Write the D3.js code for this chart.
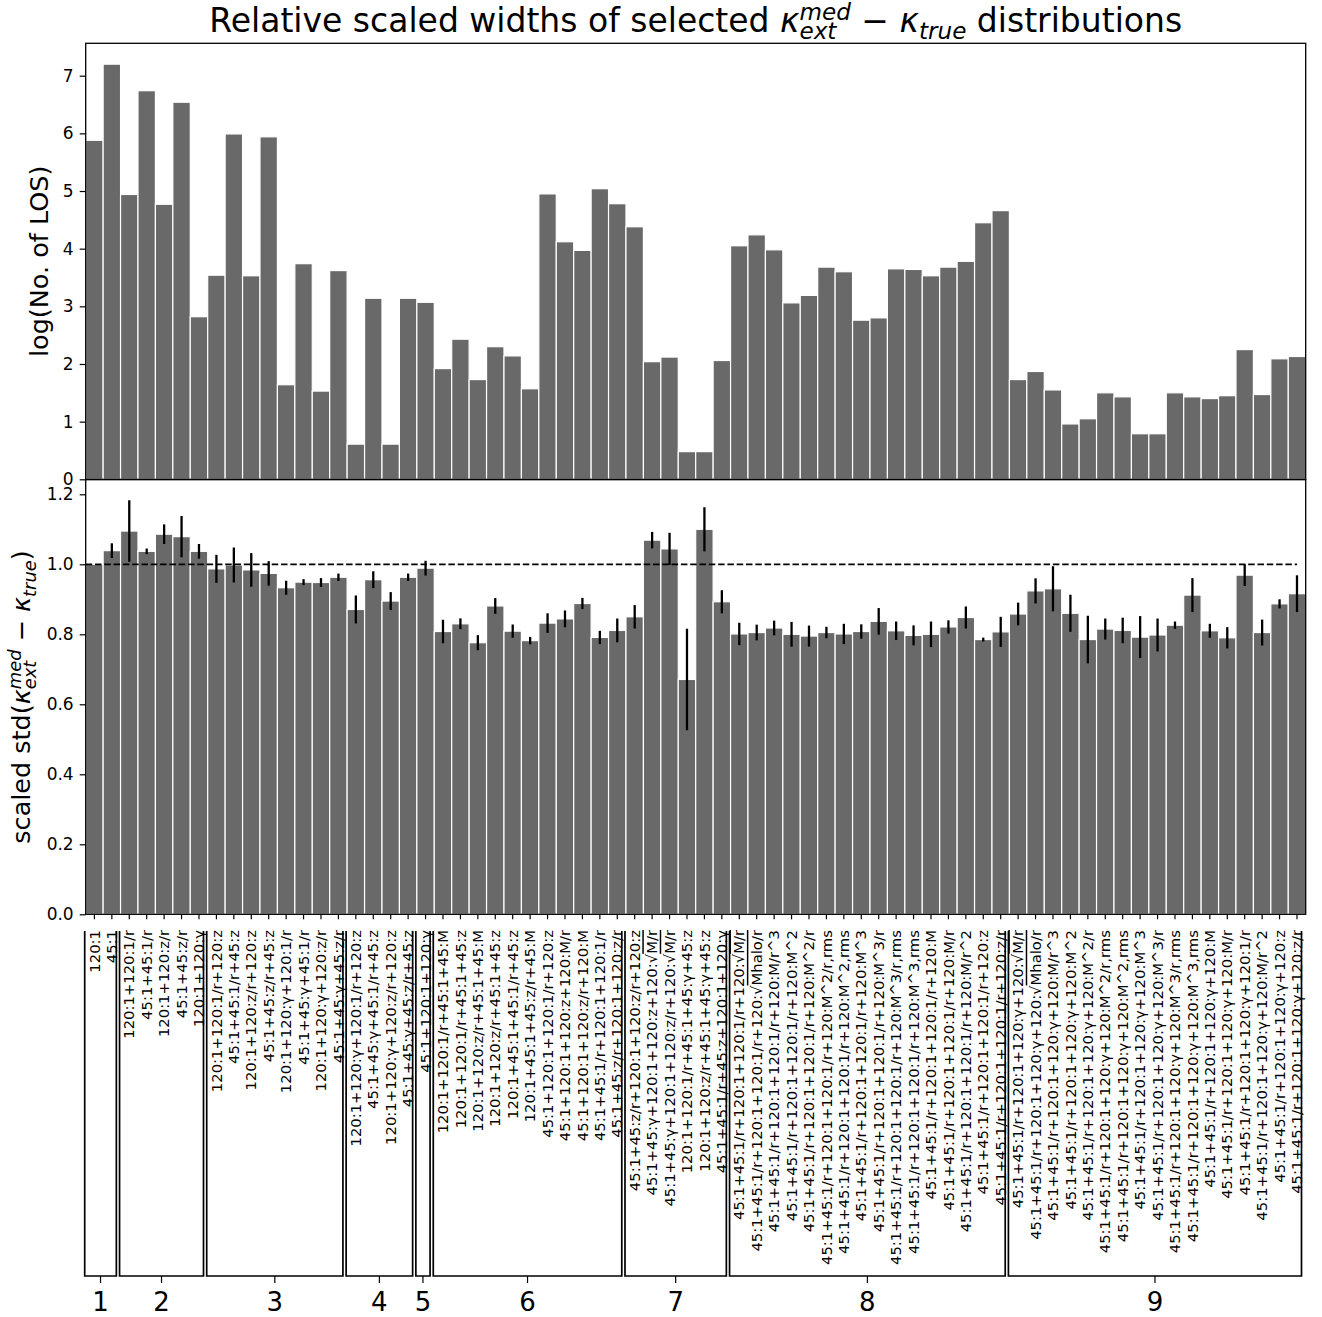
<!DOCTYPE html>
<html><head><meta charset="utf-8">
<script src="https://cdn.jsdelivr.net/npm/d3@7"></script>
<style>
html,body{margin:0;padding:0;background:#fff;}
text{font-family:"DejaVu Sans",sans-serif;white-space:pre;}
</style></head>
<body>
<svg id="chart" width="1322" height="1317"></svg>
<script>
const labels = [
"120:1","45:1",
"120:1+120:1/r","45:1+45:1/r","120:1+120:z/r","45:1+45:z/r","120:1+120:γ",
"120:1+120:1/r+120:z","45:1+45:1/r+45:z","120:1+120:z/r+120:z","45:1+45:z/r+45:z","120:1+120:γ+120:1/r","45:1+45:γ+45:1/r","120:1+120:γ+120:z/r","45:1+45:γ+45:z/r",
"120:1+120:γ+120:1/r+120:z","45:1+45:γ+45:1/r+45:z","120:1+120:γ+120:z/r+120:z","45:1+45:γ+45:z/r+45:z",
"45:1+120:1+120:γ",
"120:1+120:1/r+45:1+45:M","120:1+120:1/r+45:1+45:z","120:1+120:z/r+45:1+45:M","120:1+120:z/r+45:1+45:z","120:1+45:1+45:1/r+45:z","120:1+45:1+45:z/r+45:M","45:1+120:1+120:1/r+120:z","45:1+120:1+120:z+120:M/r","45:1+120:1+120:z/r+120:M","45:1+45:1/r+120:1+120:1/r","45:1+45:z/r+120:1+120:z/r",
"45:1+45:z/r+120:1+120:z/r+120:z","45:1+45:γ+120:1+120:z+120:√M/r","45:1+45:γ+120:1+120:z/r+120:√M/r","120:1+120:1/r+45:1+45:γ+45:z","120:1+120:z/r+45:1+45:γ+45:z","45:1+45:1/r+45:z+120:1+120:γ",
"45:1+45:1/r+120:1+120:1/r+120:√M/r","45:1+45:1/r+120:1+120:1/r+120:√Mhalo/r","45:1+45:1/r+120:1+120:1/r+120:M/r^3","45:1+45:1/r+120:1+120:1/r+120:M^2","45:1+45:1/r+120:1+120:1/r+120:M^2/r","45:1+45:1/r+120:1+120:1/r+120:M^2/r,rms","45:1+45:1/r+120:1+120:1/r+120:M^2,rms","45:1+45:1/r+120:1+120:1/r+120:M^3","45:1+45:1/r+120:1+120:1/r+120:M^3/r","45:1+45:1/r+120:1+120:1/r+120:M^3/r,rms","45:1+45:1/r+120:1+120:1/r+120:M^3,rms","45:1+45:1/r+120:1+120:1/r+120:M","45:1+45:1/r+120:1+120:1/r+120:M/r","45:1+45:1/r+120:1+120:1/r+120:M/r^2","45:1+45:1/r+120:1+120:1/r+120:z","45:1+45:1/r+120:1+120:1/r+120:z/r",
"45:1+45:1/r+120:1+120:γ+120:√M/r","45:1+45:1/r+120:1+120:γ+120:√Mhalo/r","45:1+45:1/r+120:1+120:γ+120:M/r^3","45:1+45:1/r+120:1+120:γ+120:M^2","45:1+45:1/r+120:1+120:γ+120:M^2/r","45:1+45:1/r+120:1+120:γ+120:M^2/r,rms","45:1+45:1/r+120:1+120:γ+120:M^2,rms","45:1+45:1/r+120:1+120:γ+120:M^3","45:1+45:1/r+120:1+120:γ+120:M^3/r","45:1+45:1/r+120:1+120:γ+120:M^3/r,rms","45:1+45:1/r+120:1+120:γ+120:M^3,rms","45:1+45:1/r+120:1+120:γ+120:M","45:1+45:1/r+120:1+120:γ+120:M/r","45:1+45:1/r+120:1+120:γ+120:1/r","45:1+45:1/r+120:1+120:γ+120:M/r^2","45:1+45:1/r+120:1+120:γ+120:z","45:1+45:1/r+120:1+120:γ+120:z/r"
];
const groupSizes = [2,5,8,4,1,11,6,16,17];
const groupNames = ["1","2","3","4","5","6","7","8","9"];
const logLOS = [5.88,7.20,4.94,6.74,4.77,6.54,2.82,3.54,5.99,3.53,5.94,1.64,3.74,1.53,3.62,0.61,3.14,0.61,3.14,3.07,
1.92,2.43,1.73,2.30,2.14,1.57,4.95,4.12,3.97,5.04,4.78,4.38,2.04,2.12,0.48,0.48,2.06,4.05,4.24,3.98,
3.06,3.19,3.68,3.60,2.76,2.80,3.65,3.64,3.53,3.68,3.78,4.45,4.66,1.73,1.87,1.55,0.96,1.05,1.50,1.43,
0.79,0.79,1.50,1.43,1.40,1.45,2.25,1.47,2.09,2.13];
const scaledStd = [1.000,1.039,1.095,1.037,1.086,1.079,1.037,0.987,0.998,0.984,0.974,0.933,0.949,0.948,0.963,0.871,0.956,0.895,0.963,0.989,
0.808,0.830,0.776,0.881,0.809,0.782,0.832,0.844,0.888,0.791,0.811,0.850,1.069,1.044,0.671,1.100,0.893,0.801,0.805,0.818,
0.800,0.795,0.805,0.801,0.808,0.837,0.810,0.797,0.800,0.821,0.848,0.785,0.807,0.858,0.924,0.930,0.860,0.785,0.815,0.811,
0.792,0.798,0.826,0.912,0.810,0.790,0.969,0.805,0.887,0.916];
const stdErr = [0,0.021,0.088,0.008,0.028,0.059,0.021,0.040,0.050,0.048,0.035,0.020,0.0085,0.0125,0.0105,0.040,0.024,0.0255,0.0105,0.021,
0.0335,0.0155,0.0215,0.0225,0.019,0.0105,0.028,0.024,0.016,0.019,0.034,0.0335,0.0235,0.046,0.145,0.063,0.033,0.032,0.0225,0.021,
0.0355,0.030,0.0165,0.029,0.0205,0.038,0.0265,0.0285,0.0365,0.019,0.0315,0.0055,0.043,0.0325,0.036,0.0645,0.053,0.068,0.030,0.0365,
0.060,0.047,0.0105,0.0485,0.020,0.0305,0.031,0.037,0.013,0.0525];
const topTicks = [0,1,2,3,4,5,6,7];
const lowTicks = [0,0.2,0.4,0.6,0.8,1.0,1.2];
const refLevel = 1.0;

const svg = d3.select("#chart");
const L = 85.7, R = 1305.7;
const top0 = 43.3, top1 = 479.3, low0 = 479.7, low1 = 914.3;
const barColor = "#696969";
const n = labels.length;

const x = d3.scaleBand().domain(d3.range(n)).range([L, R]).padding(0);
const bw = x.bandwidth();
const yTop = d3.scaleLinear().domain([0, 7.562]).range([top1, top0]);
const yLow = d3.scaleLinear().domain([0, 1.2417]).range([low1, low0]);

// top bars
svg.append("g").selectAll("rect").data(logLOS).join("rect")
  .attr("x", (d,i)=>x(i)).attr("width", bw)
  .attr("y", d=>yTop(d)).attr("height", d=>yTop(0)-yTop(d))
  .attr("fill", barColor).attr("stroke", "#fff").attr("stroke-width", 1.2);

// lower bars
svg.append("g").selectAll("rect").data(scaledStd).join("rect")
  .attr("x", (d,i)=>x(i)).attr("width", bw)
  .attr("y", d=>yLow(d)).attr("height", d=>yLow(0)-yLow(d))
  .attr("fill", barColor).attr("stroke", "#fff").attr("stroke-width", 1.2);

// error bars
const errData = scaledStd.map((v,i)=>({i, v, e: stdErr[i]})).filter(d=>d.e>0);
svg.append("g").selectAll("line").data(errData).join("line")
  .attr("x1", d=>x(d.i)+bw/2).attr("x2", d=>x(d.i)+bw/2)
  .attr("y1", d=>yLow(d.v+d.e)).attr("y2", d=>yLow(d.v-d.e))
  .attr("stroke", "#000").attr("stroke-width", 2.3);

// dashed reference
svg.append("line").attr("x1", L).attr("x2", x(n-1)+bw/2)
  .attr("y1", yLow(refLevel)).attr("y2", yLow(refLevel))
  .attr("stroke", "#000").attr("stroke-width", 1.7).attr("stroke-dasharray", "6.5,2.8");

// frames
[[top0,top1],[low0,low1]].forEach(([a,b])=>{
  svg.append("rect").attr("x", L).attr("y", a).attr("width", R-L).attr("height", b-a)
    .attr("fill","none").attr("stroke","#000").attr("stroke-width",1.3);
});

// y axes
function styleAxis(g){
  g.select(".domain").remove();
  g.selectAll(".tick line").attr("stroke","#000").attr("stroke-width",1.2);
  g.selectAll(".tick text").attr("font-family","DejaVu Sans").attr("font-size",17).attr("fill","#000");
}
svg.append("g").attr("transform",`translate(${L},0)`)
  .call(d3.axisLeft(yTop).tickValues(topTicks).tickFormat(d3.format("d")).tickSize(6).tickPadding(6))
  .call(styleAxis);
svg.append("g").attr("transform",`translate(${L},0)`)
  .call(d3.axisLeft(yLow).tickValues(lowTicks).tickFormat(d3.format(".1f")).tickSize(6).tickPadding(6))
  .call(styleAxis);
// bottom ticks
svg.append("g").attr("transform",`translate(0,${low1})`)
  .call(d3.axisBottom(x).tickSize(5).tickFormat(""))
  .call(g=>{g.select(".domain").remove(); g.selectAll(".tick line").attr("stroke","#000").attr("stroke-width",1.2);});

// x labels (rotated)
const labTop = 930;
const lab = svg.append("g");
labels.forEach((s,i)=>{
  const t = lab.append("text")
    .attr("transform",`translate(${x(i)+bw/2},${labTop}) rotate(-90)`)
    .attr("text-anchor","end").attr("dy","0.35em")
    .attr("font-size",14.8).attr("fill","#000");
  const k = s.indexOf("√");
  if (k < 0) { t.text(s); }
  else {
    t.append("tspan").text(s.slice(0,k+1));
    t.append("tspan").style("text-decoration","overline").text(s.slice(k+1));
  }
});

// group boxes
const boxTop = 931, boxBot = 1276;
let start = 0;
const gb = svg.append("g");
groupSizes.forEach((sz, gi)=>{
  const a = x(start) - 1.0, b = x(start+sz-1) + bw - 4.2;
  gb.append("path").attr("d",`M${a},${boxTop}V${boxBot}H${b}V${boxTop}`)
    .attr("fill","none").attr("stroke","#000").attr("stroke-width",1.7);
  const c = (a+b)/2;
  gb.append("line").attr("x1",c).attr("x2",c).attr("y1",boxBot).attr("y2",boxBot+7)
    .attr("stroke","#000").attr("stroke-width",1.2);
  gb.append("text").attr("x",c).attr("y",1311).attr("text-anchor","middle")
    .attr("font-size",26).attr("fill","#000").text(groupNames[gi]);
  start += sz;
});

// rich text helper
function rich(g, pieces, fs){
  let xx = 0, lastStart = 0;
  pieces.forEach(p=>{
    const st = p.stack ? lastStart : xx;
    const el = g.append("text").attr("x", st).attr("y", (p.sh||0)*fs)
      .attr("font-size", fs*(p.sc||1)).attr("font-style", p.it?"italic":"normal")
      .attr("fill","#000").text(p.t);
    const w = el.node().getComputedTextLength();
    if (p.stack) { xx = Math.max(xx, st + w); }
    else { lastStart = st; xx = st + w; }
  });
  return xx;
}
const kappaPieces = (pre, post) => [
  {t: pre},
  {t: "κ", it: true},
  {t: "med", it: true, sc: 0.7, sh: -0.36},
  {t: "ext", it: true, sc: 0.7, sh: 0.22, stack: true},
  {t: " − "},
  {t: "κ", it: true},
  {t: "true", it: true, sc: 0.7, sh: 0.22},
  {t: post}
];

// title
{
  const g = svg.append("g");
  const inner = g.append("g");
  const w = rich(inner, kappaPieces("Relative scaled widths of selected ", " distributions"), 33);
  g.attr("transform", `translate(${(L+R)/2 - w/2},32)`);
}
// top y label
{
  const g = svg.append("g").attr("transform", `translate(48,${(top0+top1)/2}) rotate(-90)`);
  const inner = g.append("g");
  const w = rich(inner, [{t:"log(No. of LOS)"}], 25.5);
  inner.attr("transform", `translate(${-w/2},0)`);
}
// lower y label
{
  const g = svg.append("g").attr("transform", `translate(30,${(low0+low1)/2}) rotate(-90)`);
  const inner = g.append("g");
  const w = rich(inner, kappaPieces("scaled std(", ")"), 25.5);
  inner.attr("transform", `translate(${-w/2},0)`);
}
</script>
</body></html>
